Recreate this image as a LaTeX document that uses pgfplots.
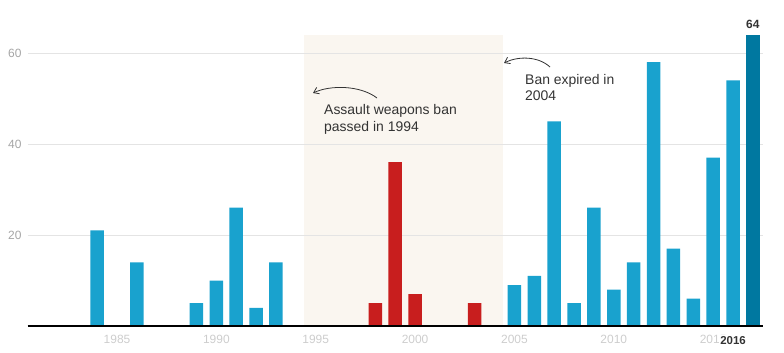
\documentclass[border=0pt]{standalone}
\usepackage{fontspec}
\setmainfont{Liberation Sans}
\usepackage{pgfplots}
\pgfplotsset{compat=1.18}
\usetikzlibrary{arrows.meta}
\definecolor{barblue}{RGB}{25,162,206}
\definecolor{bardark}{RGB}{0,120,160}
\definecolor{barred}{RGB}{200,30,30}
\definecolor{shade}{RGB}{250,246,240}
\definecolor{gridgray}{RGB}{228,228,228}
\definecolor{ylab}{RGB}{165,165,165}
\definecolor{xlab}{RGB}{205,205,205}
\definecolor{txt}{RGB}{51,51,51}
\begin{document}
\begin{tikzpicture}
\begin{axis}[
  set layers,
  at={(27.6bp,27bp)}, anchor=south west,
  scale only axis, width=735.2bp, height=291.2bp,
  xmin=1980.5, xmax=2017.5, ymin=0, ymax=64,
  axis line style={draw=none},
  ymajorgrids, grid style={color=gridgray, line width=0.8bp},
  ytick={20,40,60},
  xtick={1985,1990,...,2015},
  extra x ticks={2016},
  extra x tick style={grid=none, xticklabel style={font=\fontsize{11.5}{13}\selectfont\bfseries, text=txt, fill=white, inner sep=1bp}},
  major tick length=0pt,
  /pgf/number format/assume math mode=true,
  /pgf/number format/1000 sep={},
  yticklabel style={font=\fontsize{12}{14}\selectfont, text=ylab, anchor=east, inner sep=0pt, xshift=-6bp},
  xticklabel style={font=\fontsize{12}{14}\selectfont, text=xlab, anchor=north, inner sep=0pt, yshift=-9bp},
  clip=false,
]
\addplot[fill=shade, draw=none, on layer=axis background] coordinates {(1994.4,0)(2004.4,0)(2004.4,64)(1994.4,64)} -- cycle;
\addplot[ybar, bar width=13.5bp, bar shift=0pt, fill=barblue, draw=none] coordinates {
(1984,21)(1986,14)(1989,5)(1990,10)(1991,26)(1992,4)(1993,14)
(2005,9)(2006,11)(2007,45)(2008,5)(2009,26)(2010,8)(2011,14)(2012,58)(2013,17)(2014,6)(2015,37)(2016,54)};
\addplot[ybar, bar width=13.5bp, bar shift=0pt, fill=barred, draw=none] coordinates {
(1998,5)(1999,36)(2000,7)(2003,5)};
\addplot[ybar, bar width=13.5bp, bar shift=0pt, fill=bardark, draw=none,
  nodes near coords, nodes near coords style={font=\fontsize{12}{14}\selectfont\bfseries, text=txt, anchor=south, inner sep=0pt, yshift=6bp}] coordinates {
(2017,64)};
\draw[black, line width=1.6bp] (axis cs:1980.5,0) -- (axis cs:2017.5,0);
\end{axis}
\begin{scope}[font=\fontsize{14}{17}\selectfont, text=txt]
\node[anchor=base west, inner sep=0pt] at (324bp,238bp) {Assault weapons ban};
\node[anchor=base west, inner sep=0pt] at (324bp,221bp) {passed in 1994};
\node[anchor=base west, inner sep=0pt] at (525bp,268.5bp) {Ban expired in};
\node[anchor=base west, inner sep=0pt] at (525bp,252bp) {2004};
\end{scope}
\draw[txt, line width=0.8bp, -{Straight Barb[length=5bp,width=7bp]}] (377bp,255bp) .. controls (360bp,268bp) and (330bp,268bp) .. (313bp,260bp);
\draw[txt, line width=0.8bp, -{Straight Barb[length=5bp,width=7bp]}] (550bp,286bp) .. controls (538bp,297bp) and (518bp,297bp) .. (504bp,290bp);
\pgfresetboundingbox
\path[use as bounding box] (0bp,0bp) rectangle (784bp,353bp);
\end{tikzpicture}
\end{document}
